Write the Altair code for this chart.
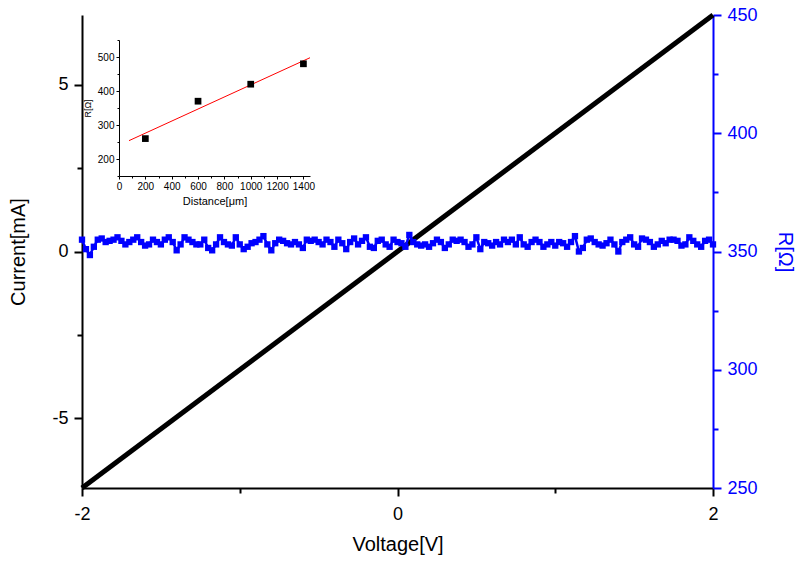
import altair as alt
import pandas as pd
import numpy as np

FONT = "Liberation Sans"

# Main I-V sweep (straight line)
iv_voltage = [-2.0, 2.0]
iv_current = [-7.1, 7.1]

# Resistance vs voltage (blue series)
r_values = [
    355, 351, 348.5, 352, 355, 355.5, 354, 354.5, 355, 356, 354.5, 353, 354, 355, 356, 354, 352.5, 353, 355, 354, 353, 355, 356, 354, 350.5, 353, 356,
    355, 354, 353, 353, 355, 351.5, 350.5, 353, 356, 354, 353, 352.5, 356, 353, 351, 352, 353.5, 354, 355, 356.5, 353, 350.5, 353.5, 355, 354.5, 353.5, 353,
    354, 353, 351.5, 355, 354.5, 355, 354, 353, 355, 354, 352, 355, 353.5, 351, 354, 355.5, 353, 354.5, 356, 352, 351.5, 354.5, 355, 353, 352, 355, 354,
    353.5, 352, 357, 354, 353, 352.5, 353, 352, 353.5, 355, 354, 351.5, 353, 355, 354.5, 355, 354, 352, 353, 356, 351, 354, 353.5, 352.5, 354, 353, 355,
    354, 355, 353, 356, 353, 352, 354, 355, 354, 352, 353, 354, 352.5, 354, 353.5, 352, 354, 356.5, 350, 351.5, 355, 355.5, 354, 353, 352.5, 353.5, 355,
    353, 350, 354, 355, 356, 353, 352, 355.5, 355, 354, 352, 353, 354.5, 353.5, 355, 355, 354.5, 352.5, 353, 356, 354.5, 353, 352, 354.5, 355, 353,
]
r_voltage = np.linspace(-2, 2, len(r_values))

# Inset: R vs distance
inset_distance = [200, 600, 1000, 1400]
inset_r = [260, 370, 420, 480]

iv_df = pd.DataFrame({"V": iv_voltage, "I": iv_current})
r_df = pd.DataFrame({"V": r_voltage, "R": r_values})
ins_df = pd.DataFrame({"D": inset_distance, "Rin": inset_r})

W, H = 631, 473
LBL, TTL = 18, 20

def ticksize(test, major, minor):
    return {"condition": {"test": test, "value": major}, "value": minor}

x_main = alt.X(
    "V:Q",
    scale=alt.Scale(domain=[-2, 2], nice=False, zero=False),
    axis=alt.Axis(
        title="Voltage[V]", values=[-2, -1, 0, 1, 2],
        labelExpr="datum.value % 2 === 0 ? '' + datum.value : ''",
        tickSize=ticksize("datum.value % 2 === 0", 8, 5),
        grid=False, domainColor="black", tickColor="black", domainWidth=2, tickWidth=2,
        labelFont=FONT, labelFontSize=LBL, labelColor="black", labelPadding=9, labelFlush=False,
        titleFont=FONT, titleFontSize=TTL, titleFontWeight="normal", titleColor="black", titlePadding=11,
    ),
)

iv_line = alt.Chart(iv_df).mark_line(color="black", strokeWidth=5).encode(
    x=x_main,
    y=alt.Y(
        "I:Q",
        scale=alt.Scale(domain=[-7.1, 7.1], nice=False, zero=False),
        axis=alt.Axis(
            title="Current[mA]", orient="left", values=[-7.5, -5, -2.5, 0, 2.5, 5, 7.5],
            labelExpr="datum.value % 5 === 0 ? '' + datum.value : ''",
            tickSize=ticksize("datum.value % 5 === 0", 8, 5),
            grid=False, domainColor="black", tickColor="black", domainWidth=2, tickWidth=2,
            labelFont=FONT, labelFontSize=LBL, labelColor="black", labelPadding=6, labelFlush=False,
            titleFont=FONT, titleFontSize=TTL, titleFontWeight="normal", titleColor="black", titlePadding=23,
        ),
    ),
)

r_line = alt.Chart(r_df).mark_line(
    color="#0000ff", strokeWidth=2.5,
    point=alt.OverlayMarkDef(shape="square", size=40, color="#0000ff", filled=True, opacity=1),
).encode(
    x=x_main,
    y=alt.Y(
        "R:Q",
        scale=alt.Scale(domain=[250, 450], nice=False, zero=False),
        axis=alt.Axis(
            title="R[Ω]", orient="right", values=list(range(250, 451, 25)),
            labelExpr="datum.value % 50 === 0 ? '' + datum.value : ''",
            tickSize=ticksize("datum.value % 50 === 0", 8, 5),
            grid=False, domainColor="#0000ff", tickColor="#0000ff", domainWidth=2, tickWidth=2,
            labelFont=FONT, labelFontSize=LBL, labelColor="#0000ff", labelPadding=6, labelFlush=False,
            titleFont=FONT, titleFontSize=TTL, titleFontWeight="normal", titleColor="#0000ff",
            titlePadding=17, titleAngle=90,
        ),
    ),
)

main = alt.layer(iv_line, r_line).resolve_scale(y="independent")

# Inset placed inside the plot area through pixel scale ranges
ins_x = alt.X(
    "D:Q",
    scale=alt.Scale(domain=[0, 1450], range=[37, 228], nice=False, zero=False),
    axis=alt.Axis(
        title="Distance[μm]", orient="bottom", offset=161 - H,
        values=list(range(0, 1401, 100)),
        labelExpr="datum.value % 200 === 0 ? '' + datum.value : ''",
        tickSize=ticksize("datum.value % 200 === 0", 3, 2),
        grid=False, domainColor="black", tickColor="black", domainWidth=1, tickWidth=1,
        labelFont=FONT, labelFontSize=10, labelColor="black", labelPadding=2, labelFlush=False,
        titleFont=FONT, titleFontSize=11, titleFontWeight="normal", titleColor="black", titlePadding=4,
    ),
)
ins_y = alt.Y(
    "Rin:Q",
    scale=alt.Scale(domain=[150, 550], range=[161, 25], nice=False, zero=False),
    axis=alt.Axis(
        title="R[Ω]", orient="left", offset=-37,
        values=list(range(150, 551, 50)),
        labelExpr="datum.value % 100 === 0 ? '' + datum.value : ''",
        tickSize=ticksize("datum.value % 100 === 0", 3, 2),
        grid=False, domainColor="black", tickColor="black", domainWidth=1, tickWidth=1,
        labelFont=FONT, labelFontSize=10, labelColor="black", labelPadding=2, labelFlush=False,
        titleFont=FONT, titleFontSize=9, titleFontWeight="normal", titleColor="black", titlePadding=5,
    ),
)

ins_pts = alt.Chart(ins_df).mark_point(shape="square", size=45, filled=True, color="black", opacity=1).encode(
    x=ins_x, y=ins_y
)
ins_fit = alt.Chart(ins_df).transform_regression("D", "Rin", extent=[76, 1450]).mark_line(
    color="red", strokeWidth=1
).encode(x=ins_x, y=ins_y)

inset = alt.layer(ins_fit, ins_pts)

chart = alt.layer(main, inset).resolve_scale(x="independent", y="independent").properties(
    width=W, height=H,
    autosize=alt.AutoSizeParams(type="none"),
    padding={"left": 82, "top": 15, "right": 87, "bottom": 78},
    background="white",
).configure_view(strokeWidth=0)

chart.save("out.html", embed_options={"renderer": "svg", "actions": False})
